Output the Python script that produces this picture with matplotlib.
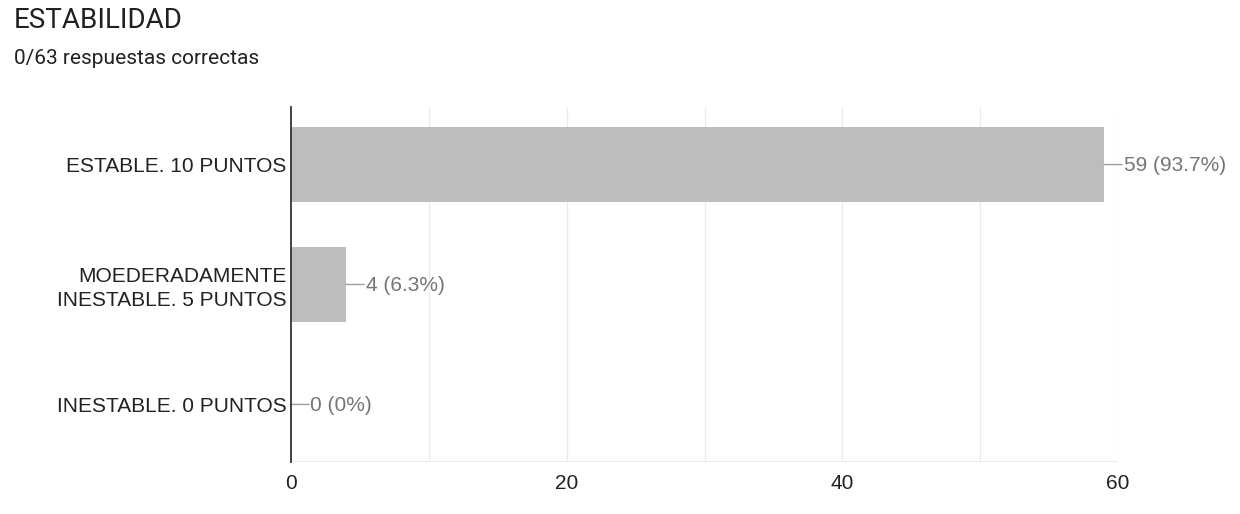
import numpy as np
from matplotlib import pyplot as plt

# datos
categorias = ["ESTABLE. 10 PUNTOS", "MOEDERADAMENTE\nINESTABLE. 5 PUNTOS", "INESTABLE. 0 PUNTOS"]
respuestas = [59, 4, 0]
total = 63
xticks = [0, 20, 40, 60]

fig = plt.figure(figsize=(12.4, 5.14), dpi=100)
ax = fig.add_axes([0.2347, 0.1012, 0.6669, 0.6906])

y = np.arange(len(categorias))
ax.barh(y, respuestas, height=0.62, color="#bdbdbd", zorder=2)

ax.set_xlim(0, 60)
ax.set_ylim(len(categorias) - 0.52, -0.48)

# rejilla vertical cada 10
for v in range(10, 61, 10):
    ax.axvline(v, color="#ebebeb", lw=1, zorder=0)
ax.axhline(len(categorias) - 0.52, color="#ebebeb", lw=1.5, zorder=0)

for s in ["top", "right", "bottom"]:
    ax.spines[s].set_visible(False)
ax.spines["left"].set_color("#333333")
ax.spines["left"].set_linewidth(1.3)
ax.spines["left"].set_zorder(3)

ax.set_xticks(xticks)
ax.set_xticklabels([str(t) for t in xticks], fontsize=15, color="#222222",
                   family="Liberation Sans")
ax.set_yticks(y)
ax.set_yticklabels(categorias, fontsize=15, color="#222222",
                   family="Liberation Sans", linespacing=1.3)
ax.tick_params(axis="both", length=0)
ax.tick_params(axis="y", pad=3)
ax.tick_params(axis="x", pad=9)

# etiquetas de valor con linea de union
for yi, v in zip(y, respuestas):
    pct = v / total * 100
    txt = "%d (%s%%)" % (v, ("%.1f" % pct) if v else "0")
    ax.annotate("", xy=(v, yi), xytext=(13, 0), textcoords="offset points",
                arrowprops=dict(arrowstyle="-", color="#9e9e9e", lw=1,
                                shrinkA=0, shrinkB=0), annotation_clip=False)
    ax.annotate(txt, xy=(v, yi), xytext=(14, -1), textcoords="offset points",
                va="center", ha="left", fontsize=15, color="#757575",
                family="Liberation Sans", annotation_clip=False)

fig.text(14 / 1240, 1 - 20 / 514, "ESTABILIDAD", fontsize=20, family="Roboto",
         color="#202124", va="center", ha="left")
fig.text(14 / 1240, 1 - 58 / 514, "0/63 respuestas correctas", fontsize=15,
         family="Roboto", color="#202124", va="center", ha="left")

plt.savefig("out.png", dpi=100)
